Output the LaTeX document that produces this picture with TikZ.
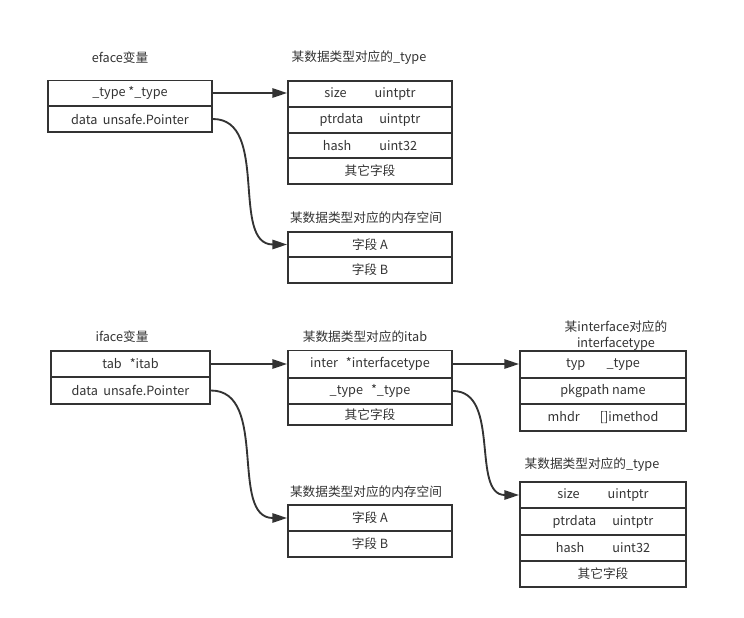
\documentclass[tikz,border=0pt]{standalone}
\usepackage{fontspec}
\setmainfont{Noto Sans CJK SC}
\usepackage{xcolor}
\usetikzlibrary{arrows.meta}
\definecolor{linegray}{HTML}{333333}

\begin{document}
\begin{tikzpicture}[x=0.75pt,y=0.75pt,yscale=-1,xscale=1,
  cell/.style={draw=linegray, line width=1.4pt, text=linegray, inner sep=0pt, minimum width=123pt, minimum height=19.5pt, font=\fontsize{9.5}{11}\selectfont},
  title/.style={text=linegray, inner sep=0.75pt, align=center, font=\fontsize{9.5}{12}\selectfont},
  link/.style={draw=linegray, line width=1.4pt, -{Triangle[length=11pt,width=7pt]}}]
\useasboundingbox (0,0) rectangle (744,618);

% eface
\draw (120,58) node [title] (efacet) {eface变量};
\draw (130,93) node [cell, minimum height=18.75pt] (et) {\_type *\_type};
\draw (130,119) node [cell] (ed) {data\hspace{4pt}unsafe.Pointer};

% _type of eface
\draw (359,58) node [title] (typeat) {某数据类型对应的\_type};
\draw (370,94) node [cell] (tas) {size\hspace{21pt}uintptr};
\draw (370,120) node [cell] (tap) {ptrdata\hspace{12pt}uintptr};
\draw (370,145.5) node [cell, minimum height=18.75pt] (tah) {hash\hspace{21pt}uint32};
\draw (370,171) node [cell] (tao) {其它字段};

% memory of eface
\draw (366,218) node [title] (memat) {某数据类型对应的内存空间};
\draw (370,244.5) node [cell, minimum height=18.75pt] (maa) {字段 A};
\draw (370,270) node [cell] (mab) {字段 B};

% iface
\draw (122,337) node [title] (ifacet) {iface变量};
\draw (130.5,364) node [cell, minimum width=119.25pt] (it) {tab\hspace{6pt}*itab};
\draw (130.5,390.5) node [cell, minimum width=119.25pt, minimum height=20.25pt] (id) {data\hspace{4pt}unsafe.Pointer};

% itab
\draw (365,337) node [title] (itabt) {某数据类型对应的itab};
\draw (370,364) node [cell, minimum height=20.25pt] (ti) {inter\hspace{6pt}*interfacetype};
\draw (370,391) node [cell] (tt) {\_type\hspace{6pt}*\_type};
\draw (370,414.5) node [cell, minimum height=15.75pt] (to) {其它字段};

% interfacetype
\draw (616,336) node [title] (ftypet) {某interface对应的\\interfacetype};
\draw (603,364.5) node [cell, minimum width=124.5pt, minimum height=20.25pt] (fy) {typ\hspace{16pt}\_type};
\draw (603,391) node [cell, minimum width=124.5pt] (fp) {pkgpath name};
\draw (603,417.5) node [cell, minimum width=124.5pt, minimum height=20.25pt] (fm) {mhdr\hspace{15pt}[]imethod};

% _type of iface
\draw (592,465) node [title] (typebt) {某数据类型对应的\_type};
\draw (603,495) node [cell, minimum width=124.5pt] (tbs) {size\hspace{21pt}uintptr};
\draw (603,521.5) node [cell, minimum width=124.5pt, minimum height=20.25pt] (tbp) {ptrdata\hspace{12pt}uintptr};
\draw (603,548) node [cell, minimum width=124.5pt] (tbh) {hash\hspace{21pt}uint32};
\draw (603,574) node [cell, minimum width=124.5pt] (tbo) {其它字段};

% memory of iface
\draw (366,492) node [title] (membt) {某数据类型对应的内存空间};
\draw (370,518) node [cell] (mba) {字段 A};
\draw (370,544) node [cell] (mbb) {字段 B};

% pointers
\draw [link] (et.east) -- (et.east -| tas.west);
\draw [link] (ed.east) to [out=0,in=180] (maa.west);
\draw [link] (it.east) -- (it.east -| ti.west);
\draw [link] (ti.east) -- (ti.east -| fy.west);
\draw [link] (id.east) to [out=0,in=180] (mba.west);
\draw [link] (tt.east) to [out=0,in=180] (tbs.west);
\end{tikzpicture}
\end{document}
